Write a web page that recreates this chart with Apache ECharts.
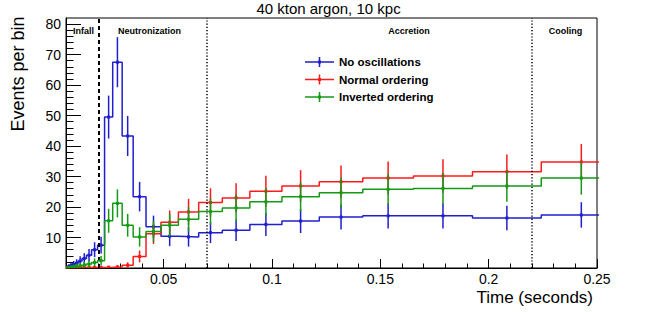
<!DOCTYPE html>
<html><head><meta charset="utf-8">
<script src="https://cdn.jsdelivr.net/npm/echarts@6/dist/echarts.min.js"></script>
<style>html,body{margin:0;padding:0;background:#fff}#c{width:664px;height:312px}</style>
</head><body><div id="c"></div>
<script>
// ---- data ----
const binEdges = [0.00495, 0.00577, 0.00672, 0.00782, 0.00911, 0.01061, 0.01236, 0.01440, 0.01677, 0.01953,
  0.02275, 0.02650, 0.03087, 0.03595, 0.04188, 0.04878, 0.05682, 0.06618, 0.07709, 0.08980,
  0.10460, 0.12183, 0.14191, 0.16530, 0.19254, 0.22428, 0.26124];
const seriesNames = ['No oscillations', 'Normal ordering', 'Inverted ordering'];
const noOsc = [0.3, 0.5, 0.8, 1.2, 1.6, 2.3, 3.1, 4.2, 6.0, 7.5,
  49.5, 67.5, 43.3, 23.4, 13.5, 10.4, 10.2, 11.6, 12.4, 14.3, 15.4, 16.7, 17.1, 17.1, 16.4, 17.4];
const noOscErr = [0.55, 0.71, 0.89, 1.1, 1.26, 1.52, 1.76, 2.05, 2.45, 2.74,
  7.04, 8.22, 6.58, 4.84, 3.67, 3.22, 3.19, 3.41, 3.52, 3.78, 3.92, 4.09, 4.14, 4.14, 4.05, 4.17];
const normalOrd = [0.05, 0.05, 0.1, 0.1, 0.1, 0.15, 0.15, 0.2, 0.2, 0.2,
  0.25, 0.35, 0.9, 3.8, 11.2, 15.0, 18.4, 21.5, 23.0, 25.2, 26.9, 28.3, 29.5, 30.2, 31.6, 34.8];
const normalOrdErr = [0.22, 0.22, 0.32, 0.32, 0.32, 0.39, 0.39, 0.45, 0.45, 0.45,
  0.5, 0.59, 0.95, 1.95, 3.35, 3.87, 4.29, 4.64, 4.80, 5.02, 5.19, 5.32, 5.43, 5.50, 5.62, 5.90];
const invertedOrd = [0.1, 0.2, 0.3, 0.4, 0.6, 0.8, 1.0, 1.3, 1.8, 2.4,
  15.5, 21.2, 14.0, 10.2, 12.0, 14.0, 16.0, 18.5, 19.7, 21.7, 23.4, 24.7, 25.8, 26.1, 26.9, 29.5];
const invertedOrdErr = [0.32, 0.45, 0.55, 0.63, 0.77, 0.89, 1.0, 1.14, 1.34, 1.55,
  3.94, 4.60, 3.74, 3.19, 3.46, 3.74, 4.0, 4.30, 4.44, 4.66, 4.84, 4.97, 5.08, 5.11, 5.19, 5.43];
const xMajorTicks = [0.05, 0.1, 0.15, 0.2, 0.25];
const xMinorTicks = [0.01, 0.02, 0.03, 0.04, 0.06, 0.07, 0.08, 0.09, 0.11, 0.12, 0.13, 0.14,
  0.16, 0.17, 0.18, 0.19, 0.21, 0.22, 0.23, 0.24];
const yMajorTicks = [10, 20, 30, 40, 50, 60, 70, 80];
const yMinorTicks = [2, 4, 6, 8, 12, 14, 16, 18, 22, 24, 26, 28, 32, 34, 36, 38, 42, 44, 46, 48,
  52, 54, 56, 58, 62, 64, 66, 68, 72, 74, 76, 78, 80];
const phaseBoundaries = [0.02, 0.07, 0.22];
const phaseLabels = ['Infall', 'Neutronization', 'Accretion', 'Cooling'];
const titleText = '40 kton argon, 10 kpc';
const xTitle = 'Time (seconds)';
const yTitle = 'Events per bin';

// ---- styling ----
const FONT = '"Liberation Sans", Arial, Helvetica, sans-serif';
const colors = ['#1f1fcc', '#ff1a1a', '#159a15'];
const X_MIN = binEdges[0], X_MAX = 0.25, Y_MIN = 0, Y_MAX = 82;

function stepSeries(vals, color, z) {
  const data = binEdges.map((e, i) => [e, vals[Math.min(i, vals.length - 1)]]);
  return { type: 'line', name: '_h' + z, step: 'end', data, symbol: 'none', clip: true, z,
    lineStyle: { color, width: 1.5 }, silent: true, animation: false };
}
function errSeries(name, vals, errs, color, z) {
  return {
    type: 'custom', name, z, clip: true, silent: true,
    itemStyle: { color },
    encode: { x: 0, y: 1 },
    data: vals.map((v, i) => [(binEdges[i] + binEdges[i + 1]) / 2, v, errs[i]]),
    renderItem(params, api) {
      const x = api.value(0), y = api.value(1), e = api.value(2);
      const p = api.coord([x, y]);
      const lo = api.coord([x, Math.max(0, y - e)]);
      const hi = api.coord([x, y + e]);
      return { type: 'group', children: [
        { type: 'line', shape: { x1: p[0], y1: lo[1], x2: p[0], y2: hi[1] }, style: { stroke: color, lineWidth: 1.5 } },
        { type: 'rect', shape: { x: p[0] - 1.5, y: p[1] - 1.5, width: 3, height: 3 }, style: { fill: color } }
      ] };
    }
  };
}
const lineTypes = [
  { type: [4, 3], width: 2 },
  { type: [1.2, 2], width: 1.5 },
  { type: [1.2, 2], width: 1.5 }
];
const legendIcon = 'path://M0,4.25H29V5.75H0Z M13.75,0H15.25V10H13.75Z M13,3.5H16V6.5H13Z';

const chart = echarts.init(document.getElementById('c'), null, { renderer: 'svg' });
const axisBase = { type: 'value', min: X_MIN, max: X_MAX, position: 'bottom', splitLine: { show: false } };
const yBase = { type: 'value', min: Y_MIN, max: Y_MAX, position: 'left', splitLine: { show: false } };
chart.setOption({
  animation: false,
  grid: { left: 66, right: 67, top: 18, bottom: 44, show: true, borderColor: '#000', borderWidth: 1, backgroundColor: 'transparent' },
  xAxis: [
    Object.assign({}, axisBase, {
      axisLine: { show: true, lineStyle: { color: '#000', width: 1 } },
      axisTick: { show: true, inside: true, length: 9, customValues: xMajorTicks, lineStyle: { color: '#000', width: 1 } },
      axisLabel: { show: true, customValues: xMajorTicks, margin: 4, color: '#000', fontSize: 14, fontFamily: FONT }
    }),
    Object.assign({}, axisBase, {
      axisLine: { show: false },
      axisTick: { show: true, inside: true, length: 4.5, customValues: xMinorTicks, lineStyle: { color: '#000', width: 1 } },
      axisLabel: { show: false }
    })
  ],
  yAxis: [
    Object.assign({}, yBase, {
      axisLine: { show: true, lineStyle: { color: '#000', width: 1 } },
      axisTick: { show: true, inside: true, length: 15, customValues: yMajorTicks, lineStyle: { color: '#000', width: 1 } },
      axisLabel: { show: true, customValues: yMajorTicks, margin: 5, color: '#000', fontSize: 14, fontFamily: FONT }
    }),
    Object.assign({}, yBase, {
      axisLine: { show: false },
      axisTick: { show: true, inside: true, length: 7.5, customValues: yMinorTicks, lineStyle: { color: '#000', width: 1 } },
      axisLabel: { show: false }
    })
  ],
  legend: {
    orient: 'vertical', left: 305, top: 56, padding: 0, itemWidth: 29, itemHeight: 10, itemGap: 5.5,
    selectedMode: false,
    textStyle: { fontFamily: FONT, fontSize: 11.5, fontWeight: 'bold', color: '#000' },
    data: seriesNames.map((n, i) => ({ name: n, icon: legendIcon, itemStyle: { color: colors[i] } }))
  },
  series: [
    { type: 'line', name: '_marks', data: [], silent: true, z: 1,
      markLine: { silent: true, symbol: ['none', 'none'], label: { show: false }, animation: false,
        data: phaseBoundaries.map((b, i) => ({ xAxis: b, lineStyle: Object.assign({ color: '#000' }, lineTypes[i]) })) } },
    stepSeries(noOsc, colors[0], 2),
    errSeries(seriesNames[0], noOsc, noOscErr, colors[0], 3),
    stepSeries(normalOrd, colors[1], 4),
    errSeries(seriesNames[1], normalOrd, normalOrdErr, colors[1], 5),
    stepSeries(invertedOrd, colors[2], 6),
    errSeries(seriesNames[2], invertedOrd, invertedOrdErr, colors[2], 7)
  ],
  graphic: [
    { type: 'text', x: 328.5, y: 8.5, style: { text: titleText, font: '15px ' + FONT, fill: '#000', align: 'center', verticalAlign: 'middle' } },
    { type: 'text', x: 18, y: 74, rotation: Math.PI / 2, style: { text: yTitle, font: '18px ' + FONT, fill: '#000', align: 'center', verticalAlign: 'middle' } },
    { type: 'text', x: 593, y: 297, style: { text: xTitle, font: '17px ' + FONT, fill: '#000', align: 'right', verticalAlign: 'middle' } },
    { type: 'text', x: 83.6, y: 30.5, style: { text: phaseLabels[0], font: 'bold 9px ' + FONT, fill: '#000', align: 'center', verticalAlign: 'middle' } },
    { type: 'text', x: 149.5, y: 30.5, style: { text: phaseLabels[1], font: 'bold 9px ' + FONT, fill: '#000', align: 'center', verticalAlign: 'middle' } },
    { type: 'text', x: 409, y: 30.5, style: { text: phaseLabels[2], font: 'bold 9px ' + FONT, fill: '#000', align: 'center', verticalAlign: 'middle' } },
    { type: 'text', x: 565.5, y: 30.5, style: { text: phaseLabels[3], font: 'bold 9px ' + FONT, fill: '#000', align: 'center', verticalAlign: 'middle' } }
  ]
});
</script>
</body></html>
